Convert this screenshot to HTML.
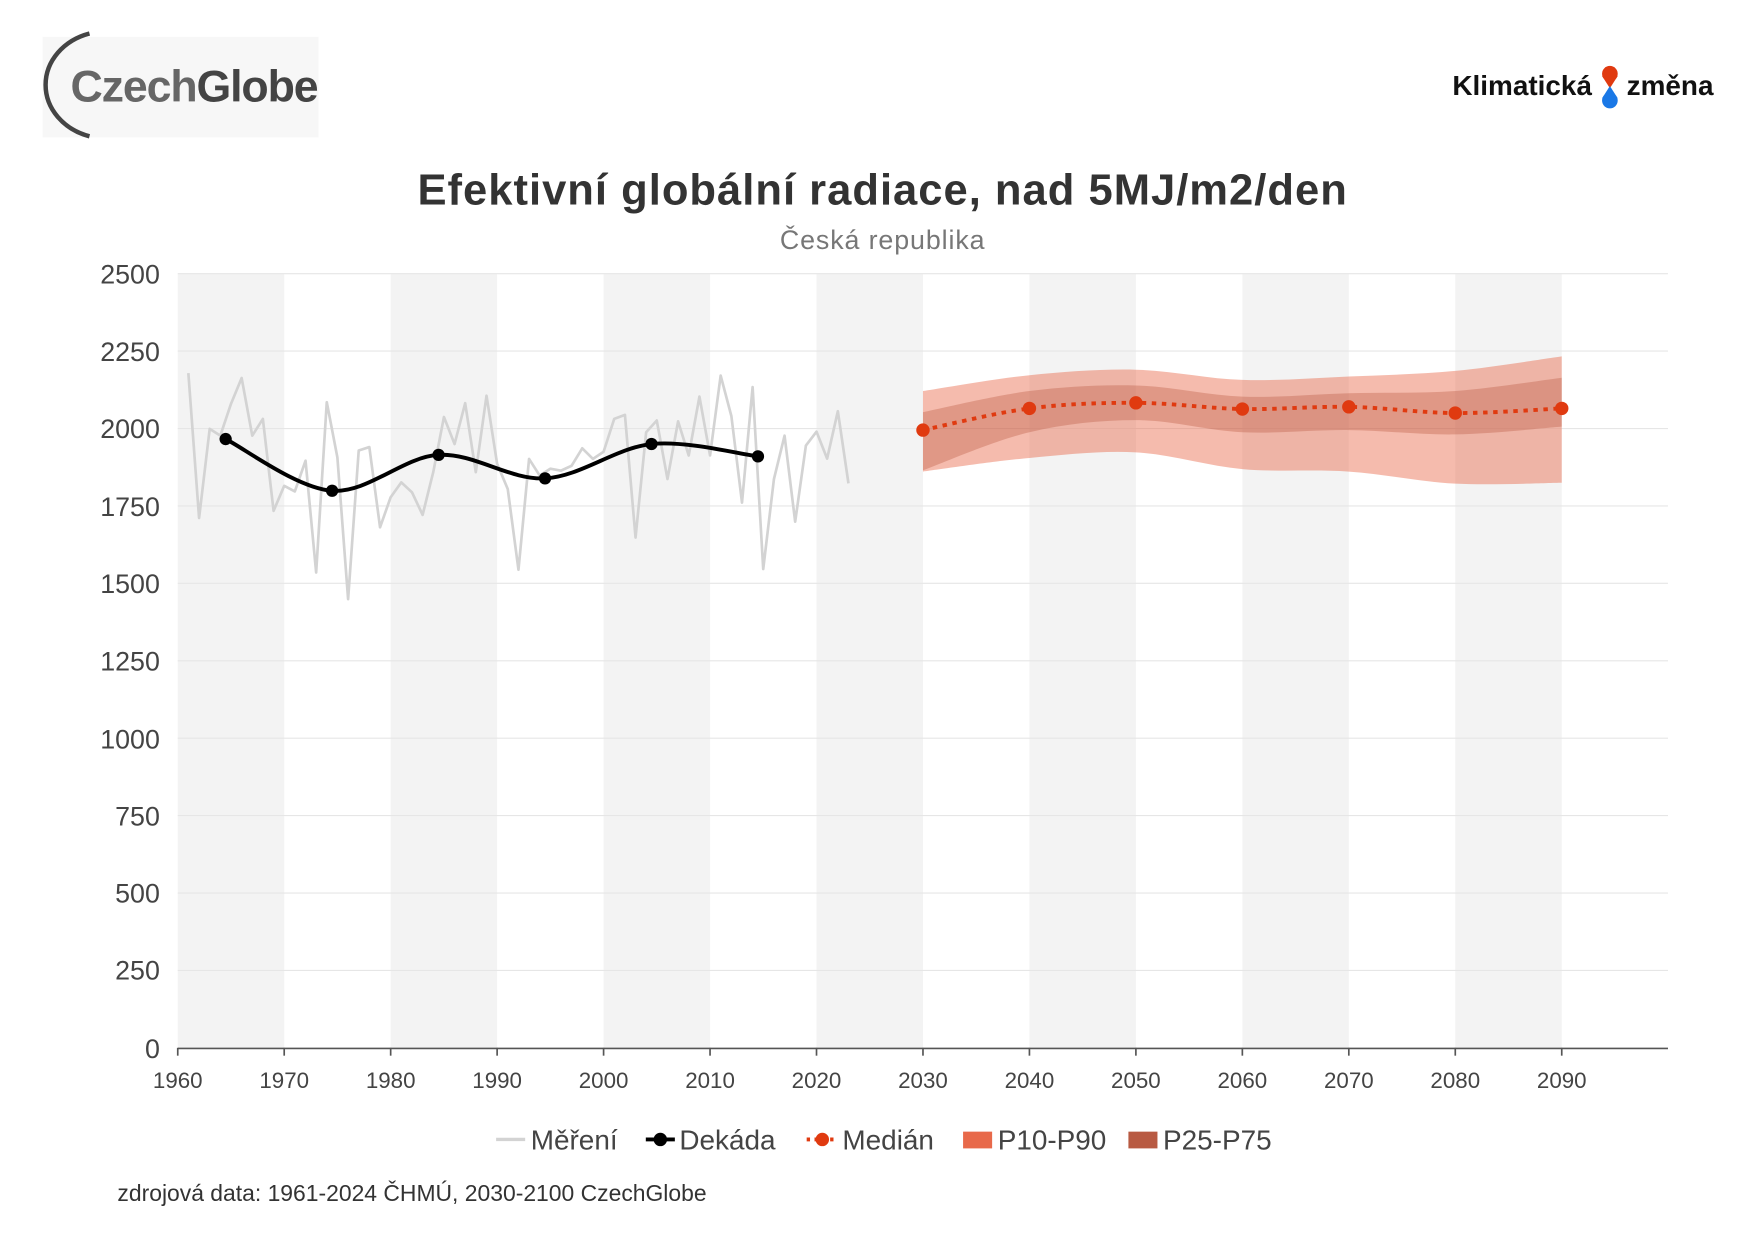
<!DOCTYPE html>
<html><head><meta charset="utf-8"><style>
html,body{margin:0;padding:0;background:#fff}
svg{display:block}
text{font-family:"Liberation Sans","DejaVu Sans",sans-serif}
</style></head><body>
<svg id="s" width="1753" height="1240" viewBox="0 0 1569 1110" xmlns="http://www.w3.org/2000/svg">
<rect x="0" y="0" width="1569" height="1110" fill="#fff"/>
<!-- logos -->
<rect x="38" y="33" width="247" height="90" fill="#f7f7f7"/>
<path d="M80 30 A55 48 0 0 0 80 122" fill="none" stroke="#444" stroke-width="4"/>
<text x="63" y="91" font-size="40" font-weight="bold" fill="#666" letter-spacing="-1">Czech<tspan fill="#444">Globe</tspan></text>
<text x="1300" y="85" font-size="25" font-weight="bold" fill="#111">Klimatická</text>
<text x="1456" y="85" font-size="25" font-weight="bold" fill="#111">změna</text>
<circle cx="1441" cy="66" r="7" fill="#e03a10"/><path d="M1434 68 L1441 79 L1448 68 Z" fill="#e03a10"/>
<circle cx="1441" cy="90" r="7" fill="#1a78e6"/><path d="M1434 88 L1441 77 L1448 88 Z" fill="#1a78e6"/>
<!-- title -->
<text x="790" y="183" font-size="39" font-weight="bold" fill="#333" text-anchor="middle" letter-spacing="0.9">Efektivní globální radiace, nad 5MJ/m2/den</text>
<text x="790" y="223" font-size="24" fill="#777" text-anchor="middle" letter-spacing="0.8">Česká republika</text>
<!-- bands -->
<g fill="#f3f3f3">
<rect x="159" y="245" width="95.3" height="693"/>
<rect x="349.6" y="245" width="95.3" height="693"/>
<rect x="540.2" y="245" width="95.3" height="693"/>
<rect x="730.8" y="245" width="95.3" height="693"/>
<rect x="921.4" y="245" width="95.3" height="693"/>
<rect x="1112" y="245" width="95.3" height="693"/>
<rect x="1302.6" y="245" width="95.3" height="693"/>
</g>
<g stroke="#e6e6e6" stroke-width="1">
<line x1="159" x2="1493" y1="245" y2="245"/><line x1="159" x2="1493" y1="314.3" y2="314.3"/>
<line x1="159" x2="1493" y1="383.6" y2="383.6"/><line x1="159" x2="1493" y1="452.9" y2="452.9"/>
<line x1="159" x2="1493" y1="522.2" y2="522.2"/><line x1="159" x2="1493" y1="591.5" y2="591.5"/>
<line x1="159" x2="1493" y1="660.8" y2="660.8"/><line x1="159" x2="1493" y1="730.1" y2="730.1"/>
<line x1="159" x2="1493" y1="799.4" y2="799.4"/><line x1="159" x2="1493" y1="868.7" y2="868.7"/>
</g>
<line x1="159" x2="1493" y1="938.5" y2="938.5" stroke="#555" stroke-width="1.5"/>
<g stroke="#555" stroke-width="1.5">
<line x1="159" x2="159" y1="938" y2="945"/><line x1="254.3" x2="254.3" y1="938" y2="945"/><line x1="349.6" x2="349.6" y1="938" y2="945"/><line x1="444.9" x2="444.9" y1="938" y2="945"/><line x1="540.2" x2="540.2" y1="938" y2="945"/><line x1="635.5" x2="635.5" y1="938" y2="945"/><line x1="730.8" x2="730.8" y1="938" y2="945"/><line x1="826.1" x2="826.1" y1="938" y2="945"/><line x1="921.4" x2="921.4" y1="938" y2="945"/><line x1="1016.7" x2="1016.7" y1="938" y2="945"/><line x1="1112" x2="1112" y1="938" y2="945"/><line x1="1207.3" x2="1207.3" y1="938" y2="945"/><line x1="1302.6" x2="1302.6" y1="938" y2="945"/><line x1="1397.9" x2="1397.9" y1="938" y2="945"/>
</g>
<g font-size="24" fill="#444" text-anchor="end">
<text x="143" y="254">2500</text><text x="143" y="323">2250</text><text x="143" y="392">2000</text><text x="143" y="462">1750</text><text x="143" y="531">1500</text><text x="143" y="600">1250</text><text x="143" y="670">1000</text><text x="143" y="739">750</text><text x="143" y="808">500</text><text x="143" y="877">250</text><text x="143" y="947">0</text>
</g>
<g font-size="20" fill="#444" text-anchor="middle">
<text x="159" y="974">1960</text><text x="254.3" y="974">1970</text><text x="349.6" y="974">1980</text><text x="444.9" y="974">1990</text><text x="540.2" y="974">2000</text><text x="635.5" y="974">2010</text><text x="730.8" y="974">2020</text><text x="826.1" y="974">2030</text><text x="921.4" y="974">2040</text><text x="1016.7" y="974">2050</text><text x="1112" y="974">2060</text><text x="1207.3" y="974">2070</text><text x="1302.6" y="974">2080</text><text x="1397.9" y="974">2090</text>
</g>
<g id="data"></g>
<!-- legend -->
<line x1="444" x2="470" y1="1020" y2="1020" stroke="#d3d3d3" stroke-width="3"/>
<text x="475" y="1029" font-size="25" fill="#444">Měření</text>
<line x1="578" x2="604" y1="1020" y2="1020" stroke="#000" stroke-width="3.5"/><circle cx="591" cy="1020" r="6" fill="#000"/>
<text x="608" y="1029" font-size="25" fill="#444">Dekáda</text>
<line x1="722" x2="750" y1="1020" y2="1020" stroke="#e03a10" stroke-width="3.5" stroke-dasharray="3 4"/><circle cx="736" cy="1020" r="6" fill="#e03a10"/>
<text x="754" y="1029" font-size="25" fill="#444">Medián</text>
<rect x="862" y="1013" width="26" height="15" fill="#e8694a"/>
<text x="893" y="1029" font-size="25" fill="#444">P10-P90</text>
<rect x="1010" y="1013" width="26" height="15" fill="#b85a42"/>
<text x="1041" y="1029" font-size="25" fill="#444">P25-P75</text>
<text x="105" y="1075" font-size="20.5" fill="#333">zdrojová data: 1961-2024 ČHMÚ, 2030-2100 CzechGlobe</text>
</svg>
<script>
(function(){
var NS="http://www.w3.org/2000/svg",g=document.getElementById("data");
function X(yr){return 159+(yr-1960)*9.53;}
function Y(v){return 938-v*0.2772;}
function el(n,a){var e=document.createElementNS(NS,n);for(var k in a)e.setAttribute(k,a[k]);g.appendChild(e);return e;}
function smooth(p){var d="M"+p[0][0]+" "+p[0][1];for(var i=0;i<p.length-1;i++){var p0=p[i-1]||p[i],p1=p[i],p2=p[i+1],p3=p[i+2]||p2;var t=6;d+=" C"+(p1[0]+(p2[0]-p0[0])/t)+" "+(p1[1]+(p2[1]-p0[1])/t)+" "+(p2[0]-(p3[0]-p1[0])/t)+" "+(p2[1]-(p3[1]-p1[1])/t)+" "+p2[0]+" "+p2[1];}return d;}
function rev(p){return p.slice().reverse();}
var yrs=[2030,2040,2050,2060,2070,2080,2090];
var p90=[2121,2172,2190,2157,2168,2186,2233],p10=[1861,1905,1923,1869,1861,1822,1825];
var p75=[2053,2121,2139,2103,2114,2121,2164],p25=[1865,1988,2027,1988,1995,1981,2006];
var med=[1995,2065,2083,2063,2070,2050,2065];
function band(hi,lo,fill,op){var a=yrs.map(function(y,i){return [X(y),Y(hi[i])]}),b=yrs.map(function(y,i){return [X(y),Y(lo[i])]});var d=smooth(a);var br=rev(b);var d2=smooth(br);d+=" L"+d2.slice(1)+" Z";el("path",{d:d,fill:fill,"fill-opacity":op});}
band(p90,p10,"#e8694a",0.45);
band(p75,p25,"#b04a30",0.3);
var m=yrs.map(function(y,i){return [X(y),Y(med[i])]});
el("path",{d:smooth(m),fill:"none",stroke:"#e03a10","stroke-width":3.5,"stroke-dasharray":"4 5"});
m.forEach(function(p){el("circle",{cx:p[0],cy:p[1],r:6,fill:"#e03a10"});});
var obs=[2179,1711,1999,1977,2080,2163,1977,2031,1734,1815,1797,1896,1535,2085,1907,1449,1929,1940,1681,1778,1826,1794,1721,1859,2037,1950,2082,1859,2106,1886,1805,1544,1902,1848,1870,1864,1880,1936,1902,1925,2031,2044,1648,1988,2026,1837,2023,1913,2103,1913,2171,2040,1761,2134,1546,1837,1977,1699,1945,1990,1903,2056,1823];
var pts=obs.map(function(v,i){return X(1961+i).toFixed(1)+","+Y(v).toFixed(1)}).join(" ");
el("polyline",{points:pts,fill:"none",stroke:"#d3d3d3","stroke-width":2.4,"stroke-linejoin":"round"});
var dy=[1964.5,1974.5,1984.5,1994.5,2004.5,2014.5],dv=[1966,1799,1915,1839,1950,1910];
var dp=dy.map(function(y,i){return [X(y),Y(dv[i])]});
el("path",{d:smooth(dp),fill:"none",stroke:"#000","stroke-width":3.5});
dp.forEach(function(p){el("circle",{cx:p[0],cy:p[1],r:5.5,fill:"#000"});});
})();
</script>
</body></html>
